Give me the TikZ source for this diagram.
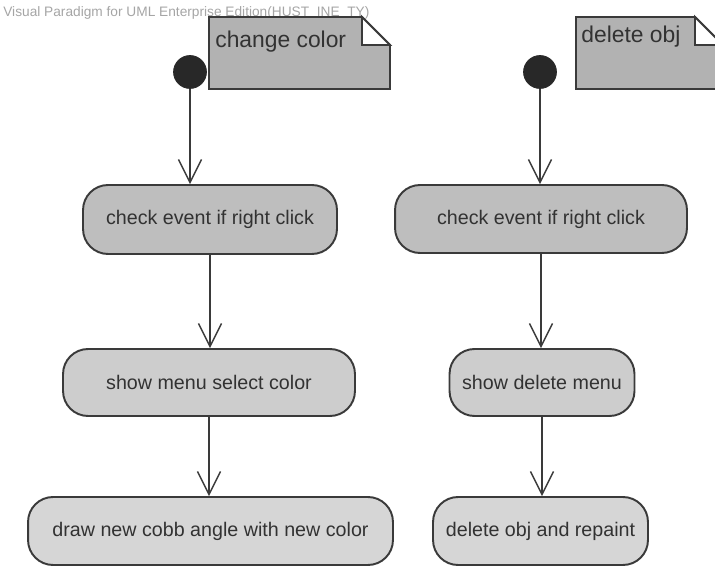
\documentclass[tikz,border=0pt]{standalone}
\usepackage{fontspec}
\setmainfont{Liberation Sans}
\usepackage{tikz}
\usetikzlibrary{arrows.meta,positioning,calc}
\definecolor{umlLine}{RGB}{58,58,58}
\definecolor{umlText}{RGB}{50,50,50}
\definecolor{umlNote}{RGB}{178,178,178}
\definecolor{umlActA}{RGB}{190,190,190}
\definecolor{umlActB}{RGB}{205,205,205}
\definecolor{umlActC}{RGB}{214,214,214}
\definecolor{umlDot}{RGB}{40,40,40}
\definecolor{umlMark}{RGB}{165,165,165}

\begin{document}
\begin{tikzpicture}[
    x=0.02cm, y=0.02cm,
    act/.style={draw=umlLine, line width=1.1pt, rounded corners=0.5cm, align=center, inner sep=0pt, text=umlText, font=\fontsize{11.2}{13}\selectfont},
    startdot/.style={circle, fill=umlDot, draw=umlDot, minimum size=0.66cm, inner sep=0pt},
    notebox/.style={draw=umlLine, line width=1.1pt, fill=umlNote},
    notetext/.style={anchor=north west, inner sep=0pt, text=umlText, font=\fontsize{13}{15}\selectfont},
    flow/.style={-{Straight Barb[length=0.46cm, width=0.46cm]}, line width=0.8pt, umlLine}
  ]
    \useasboundingbox (0,0) rectangle (715,567);
    \clip (0,0) rectangle (715,567);

    % tool banner
    \node[anchor=west, inner sep=0pt, text=umlMark, font=\fontsize{7.8}{9}\selectfont] (banner) at (3,554) {Visual Paradigm for UML Enterprise Edition(HUST\_INE\_TY)};

    % left column: change color
    \node[startdot] (s1) at (190,495) {};
    \node[act, fill=umlActA, minimum width=5.08cm, minimum height=1.38cm] (c1) at (210,347.5) {check event if right click};
    \node[act, fill=umlActB, minimum width=5.84cm, minimum height=1.34cm] (c2) at (209,184.5) {show menu select color};
    \node[act, fill=umlActC, minimum width=7.30cm, minimum height=1.36cm] (c3) at (210.5,36) {draw new cobb angle with new color};

    % right column: delete obj
    \node[startdot] (s2) at (540,495) {};
    \node[act, fill=umlActA, minimum width=5.84cm, minimum height=1.36cm] (d1) at (541,348) {check event if right click};
    \node[act, fill=umlActB, minimum width=3.70cm, minimum height=1.34cm] (d2) at (542,184.5) {show delete menu};
    \node[act, fill=umlActC, minimum width=4.30cm, minimum height=1.36cm] (d3) at (540.5,36) {delete obj and repaint};

    % notes with folded corner
    \coordinate (n1) at (209,550);
    \draw[notebox] (n1) -- ++(153,0) -- ++(28,-28) -- ++(0,-44) -- ++(-181,0) -- cycle;
    \draw[notebox, fill=white] ($(n1)+(153,0)$) -- ++(0,-28) -- ++(28,0) -- cycle;
    \node[notetext] (t1) at (215,536) {change color};
    \coordinate (n2) at (576,550);
    \draw[notebox] (n2) -- ++(119,0) -- ++(28,-28) -- ++(0,-44) -- ++(-147,0) -- cycle;
    \draw[notebox, fill=white] ($(n2)+(119,0)$) -- ++(0,-28) -- ++(28,0) -- cycle;
    \node[notetext] (t2) at (581,541) {delete obj};

    % flows
    \draw[flow] (s1) -- (s1 |- c1.north);
    \draw[flow] (c1.south) -- (c1.south |- c2.north);
    \draw[flow] (c2.south) -- (c2.south |- c3.north);
    \draw[flow] (s2) -- (s2 |- d1.north);
    \draw[flow] (d1.south) -- (d1.south |- d2.north);
    \draw[flow] (d2.south) -- (d2.south |- d3.north);
  \end{tikzpicture}
\end{document}
